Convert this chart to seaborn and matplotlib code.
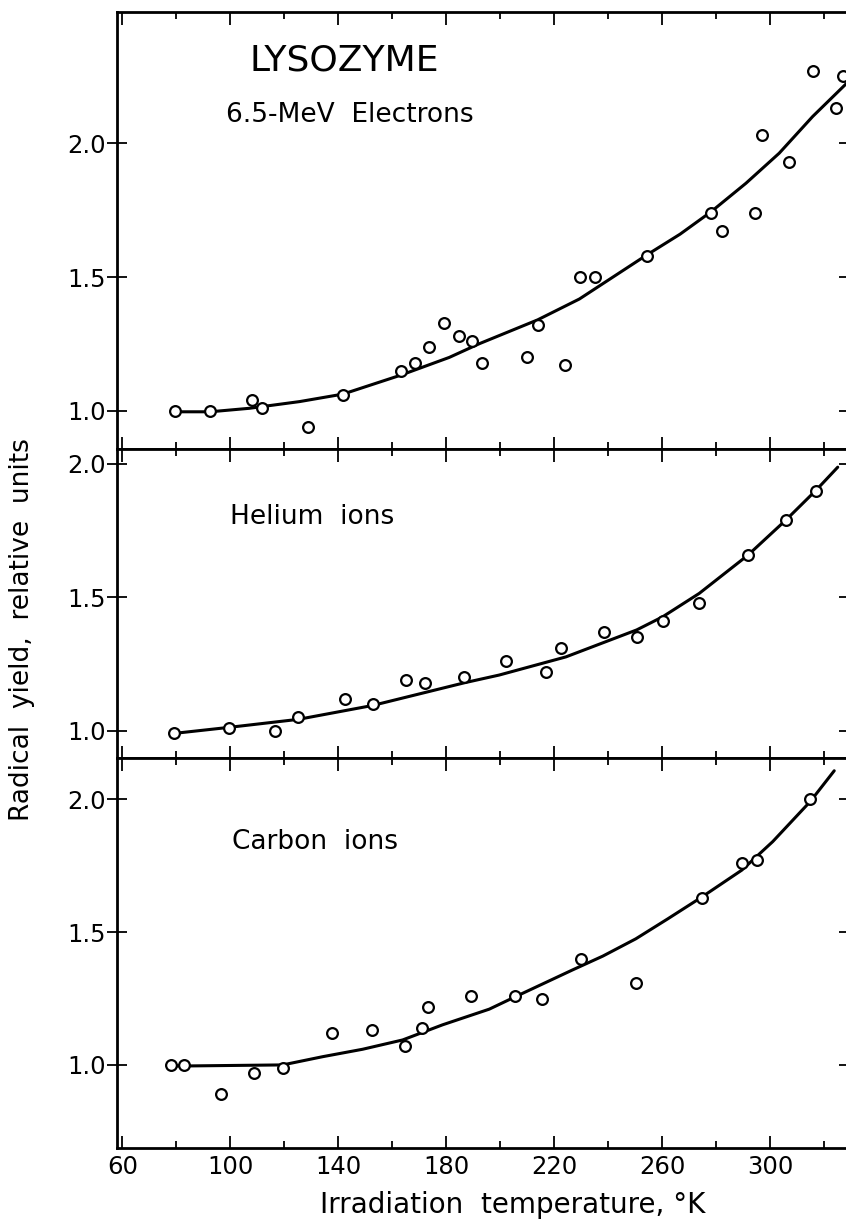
import matplotlib
matplotlib.use("Agg")
import matplotlib.pyplot as plt
import seaborn as sns
from matplotlib.ticker import FixedLocator

# 6.5-MeV electrons
elec_temp = [79.6, 92.5, 108.1, 111.6, 128.8, 141.7, 163.2, 168.3, 173.7, 179.3, 184.7, 189.5, 193.4,
             209.7, 213.8, 223.8, 229.6, 235.2, 254.2, 278.0, 282.1, 294.4, 297.0, 306.9, 315.8, 324.3, 327.1]
elec_yield = [1.00, 1.00, 1.04, 1.01, 0.94, 1.06, 1.15, 1.18, 1.24, 1.33, 1.28, 1.26, 1.18,
              1.20, 1.32, 1.17, 1.50, 1.50, 1.58, 1.74, 1.67, 1.74, 2.03, 1.93, 2.27, 2.13, 2.25]
elec_fit_temp = [79.6, 92.5, 107.0, 125.6, 141.7, 163.2, 181.1, 192.2, 213.8, 229.3, 254.2, 266.6,
                 278.0, 291.0, 303.3, 315.7, 328.5]
elec_fit_yield = [0.997, 0.997, 1.010, 1.035, 1.063, 1.134, 1.200, 1.251, 1.340, 1.418, 1.582, 1.660,
                  1.743, 1.850, 1.962, 2.099, 2.225]

# helium ions
he_temp = [79.3, 99.6, 116.6, 125.2, 142.6, 152.7, 164.9, 172.1, 186.7, 202.1, 217.0, 222.6, 238.3,
           250.5, 260.1, 273.6, 291.7, 305.8, 317.1]
he_yield = [0.99, 1.01, 1.00, 1.05, 1.12, 1.10, 1.19, 1.18, 1.20, 1.26, 1.22, 1.31, 1.37,
            1.35, 1.41, 1.48, 1.66, 1.79, 1.90]
he_fit_temp = [78.9, 99.6, 125.2, 152.7, 186.7, 199.6, 224.3, 250.5, 260.1, 273.7, 291.7, 305.8, 317.1, 325.0]
he_fit_yield = [0.99, 1.013, 1.043, 1.095, 1.18, 1.209, 1.277, 1.378, 1.427, 1.515, 1.658, 1.790, 1.903, 1.988]

# carbon ions
c_temp = [78.0, 83.0, 96.6, 108.6, 119.4, 137.7, 152.5, 164.7, 171.0, 173.3, 189.1, 205.6, 215.4,
          229.9, 250.2, 274.6, 289.5, 295.1, 314.8]
c_yield = [1.00, 1.00, 0.89, 0.97, 0.99, 1.12, 1.13, 1.07, 1.14, 1.22, 1.26, 1.26, 1.25,
           1.40, 1.31, 1.63, 1.76, 1.77, 2.00]
c_fit_temp = [78.0, 83.0, 119.4, 134.2, 149.0, 163.8, 178.6, 195.9, 205.6, 226.8, 238.0, 250.2, 262.0,
              274.6, 289.5, 300.9, 314.8, 323.7]
c_fit_yield = [0.996, 0.996, 1.0, 1.031, 1.059, 1.094, 1.151, 1.21, 1.257, 1.358, 1.41, 1.475, 1.55,
               1.632, 1.734, 1.841, 1.992, 2.108]

x_major = [60, 100, 140, 180, 220, 260, 300]
x_minor = [80, 120, 160, 200, 240, 280, 320]
y_ticks = [1.0, 1.5, 2.0]
y_ticklabels = ["1.0", "1.5", "2.0"]

sns.set_style("ticks")
plt.rcParams['font.family'] = ['DejaVu Sans']
plt.rcParams.update({'text.color': 'black', 'axes.edgecolor': 'black', 'axes.labelcolor': 'black',
                     'xtick.color': 'black', 'ytick.color': 'black'})

fig, axes = plt.subplots(3, 1, sharex=True, figsize=(8.46, 12.29), dpi=100,
                         gridspec_kw={'height_ratios': [437, 309, 390], 'hspace': 0})
fig.subplots_adjust(left=0.1383, right=1.003, top=0.9902, bottom=0.0659)

panels = [
    (elec_temp, elec_yield, elec_fit_temp, elec_fit_yield, (0.858, 2.489)),
    (he_temp, he_yield, he_fit_temp, he_fit_yield, (0.898, 2.056)),
    (c_temp, c_yield, c_fit_temp, c_fit_yield, (0.687, 2.156)),
]

for ax, (t, y, ft, fy, ylim) in zip(axes, panels):
    sns.lineplot(x=ft, y=fy, ax=ax, color="black", linewidth=2.2, zorder=2)
    sns.scatterplot(x=t, y=y, ax=ax, marker="o", s=60, facecolor="white",
                    edgecolor="black", linewidth=1.6, zorder=3)
    ax.set_xlim(58, 329)
    ax.set_ylim(*ylim)
    ax.set_yticks(y_ticks)
    ax.set_yticklabels(y_ticklabels)
    ax.xaxis.set_major_locator(FixedLocator(x_major))
    ax.xaxis.set_minor_locator(FixedLocator(x_minor))
    ax.tick_params(axis='x', which='major', direction='in', length=9, width=1.3,
                   top=True, bottom=True, labelsize=17.5, pad=5)
    ax.tick_params(axis='x', which='minor', direction='in', length=5, width=1.3,
                   top=True, bottom=True)
    ax.tick_params(axis='y', which='major', direction='inout', length=14, width=1.3,
                   left=True, right=True, labelsize=17.5, pad=1)
    for s in ax.spines.values():
        s.set_linewidth(2.0)
        s.set_visible(True)
    ax.set_xlabel("")
    ax.set_ylabel("")

axes[0].text(107.0, 2.31, "LYSOZYME", fontsize=26, ha="left", va="center")
axes[0].text(98.5, 2.104, "6.5-MeV  Electrons", fontsize=19, ha="left", va="center")
axes[1].text(99.8, 1.80, "Helium  ions", fontsize=19, ha="left", va="center")
axes[2].text(100.7, 1.84, "Carbon  ions", fontsize=19, ha="left", va="center")

fig.text(513 / 846, 1 - 1205 / 1229, "Irradiation  temperature, °K", fontsize=20,
         ha="center", va="center")
fig.text(22 / 846, 1 - 630 / 1229, "Radical  yield,  relative  units", fontsize=19,
         ha="center", va="center", rotation=90)

fig.savefig("out.png", dpi=100)
